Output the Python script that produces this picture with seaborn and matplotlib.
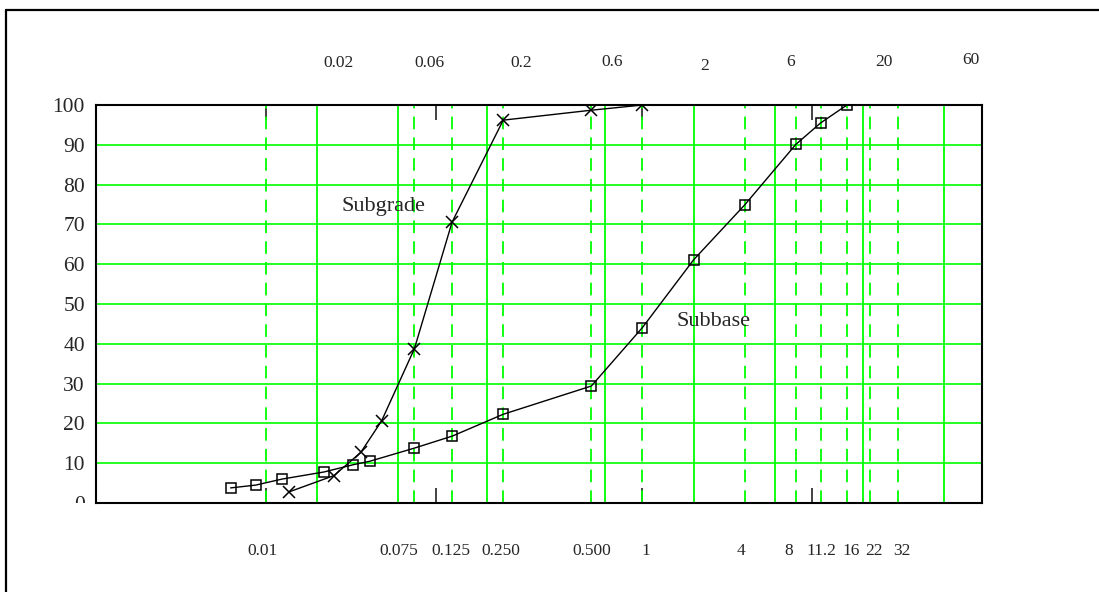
import numpy as np
import pandas as pd
import seaborn as sns
import matplotlib.pyplot as plt
from matplotlib.lines import Line2D
from matplotlib.transforms import Bbox, TransformedBbox
from matplotlib.ticker import FixedLocator, NullLocator, NullFormatter

# grain size distribution, % passing vs sieve size (mm)
subbase_size = [0.0062, 0.0087, 0.0124, 0.022, 0.0325, 0.041, 0.075, 0.125, 0.25, 0.5, 1, 2, 4, 8, 11.2, 16]
subbase_pass = [3.8, 4.5, 6.0, 7.8, 9.6, 10.5, 13.8, 16.8, 22.3, 29.4, 44.1, 61.1, 74.9, 90.1, 95.5, 100]
subgrade_size = [0.0137, 0.0252, 0.0362, 0.048, 0.075, 0.125, 0.25, 0.5, 1]
subgrade_pass = [2.8, 6.9, 12.7, 20.6, 38.8, 70.6, 96.2, 98.7, 100]

# sieve lines (dashed, labelled below) and fraction limits (solid, labelled above)
sieves = [0.01, 0.075, 0.125, 0.25, 0.5, 1, 4, 8, 11.2, 16, 22, 32]
sieve_labels = ['0.01', '0.075', '0.125', '0.250', '0.500', '1', '4', '8', '11.2', '16', '22', '32']
limits = [0.02, 0.06, 0.2, 0.6, 2, 6, 20, 60]
limit_labels = ['0.02', '0.06', '0.2', '0.6', '2', '6', '20', '60']
y_ticks = list(range(0, 101, 10))

# label nudges in pixels
sieve_dx = [-3, -16, -1, -2, 0, 3, -4, -7, 1, 4, 4, 4]
limit_dx = [22, 31, 34, 7, 11, 16, 21, 26]
limit_dy = [42, 42, 42, 43, 39, 43, 43, 45]

# log axis that is stretched between 0.25 and 0.5 mm, like the original sheet
LO, HI, GAP = np.log10(0.25), np.log10(0.5), 0.218


def fwd(x):
    with np.errstate(divide='ignore', invalid='ignore'):
        u = np.log10(np.asarray(x, dtype=float))
    return u + GAP * np.clip((u - LO) / (HI - LO), 0, 1)


def inv(v):
    v = np.asarray(v, dtype=float)
    mid = LO + (v - LO) * (HI - LO) / (HI - LO + GAP)
    u = np.where(v <= LO, v, np.where(v >= HI + GAP, v - GAP, mid))
    return 10 ** u


sns.set_style('white')
plt.rcParams['font.family'] = ['Liberation Serif', 'DejaVu Serif']

fig = plt.figure(figsize=(10.99, 5.92), dpi=100)
ax = fig.add_axes([0.0874, 0.1503, 0.8062, 0.6723])
ax.set_xscale('function', functions=(fwd, inv))
ax.set_xlim(0.001, 100)
ax.set_ylim(0, 100)

green = '#00ff00'
for yv in y_ticks[1:-1]:
    ax.axhline(yv, color=green, lw=1.2, zorder=1)
for xv in limits:
    ax.axvline(xv, color=green, lw=1.3, zorder=1)
for xv in sieves:
    ax.axvline(xv, color=green, lw=1.3, ls=(0, (7, 4.5)), zorder=1)

df_base = pd.DataFrame({'size': subbase_size, 'passing': subbase_pass})
df_grade = pd.DataFrame({'size': subgrade_size, 'passing': subgrade_pass})
sns.lineplot(data=df_base, x='size', y='passing', sort=False, estimator=None, ax=ax,
             color='black', lw=1.0, marker='s', markersize=7, markerfacecolor='none',
             markeredgecolor='black', markeredgewidth=1.1, zorder=3)
sns.lineplot(data=df_grade, x='size', y='passing', sort=False, estimator=None, ax=ax,
             color='black', lw=1.0, marker='x', markersize=9,
             markeredgecolor='black', markeredgewidth=1.1, zorder=3)
ax.set_xlabel('')
ax.set_ylabel('')

# decade ticks, inward at top and bottom
ax.xaxis.set_major_locator(FixedLocator([0.001, 0.01, 0.1, 1, 10, 100]))
ax.xaxis.set_major_formatter(NullFormatter())
ax.xaxis.set_minor_locator(NullLocator())
ax.tick_params(axis='x', which='major', direction='in', length=11, width=1.2,
               color='#222222', top=True, bottom=True)
ax.set_yticks(y_ticks)
ax.tick_params(axis='y', length=0, pad=8, labelsize=15.5)

for sp in ax.spines.values():
    sp.set_color('black')
    sp.set_linewidth(1.5)
    sp.set_zorder(4)

for v, lab, dx in zip(sieves, sieve_labels, sieve_dx):
    ax.annotate(lab, xy=(v, 0), xycoords=('data', 'axes fraction'),
                xytext=(dx, -48), textcoords='offset pixels',
                ha='center', va='center', fontsize=12.5)
for v, lab, dx, dy in zip(limits, limit_labels, limit_dx, limit_dy):
    ax.annotate(lab, xy=(v, 1), xycoords=('data', 'axes fraction'),
                xytext=(dx, dy), textcoords='offset pixels',
                ha='center', va='center', fontsize=12.5)

ax.text(0.0494, 74.4, 'Subgrade', ha='center', va='center', fontsize=16)
ax.text(2.62, 45.5, 'Subbase', ha='center', va='center', fontsize=16)

# the "0" label is cut by the x axis in the original
fig.canvas.draw()
clip = TransformedBbox(Bbox([[0, 0.1503], [1, 1]]), fig.transFigure)
for lab in ax.get_yticklabels():
    if lab.get_text() == '0':
        lab.set_clip_box(clip)
        lab.set_clip_on(True)

# page frame (top and left only)
fig.add_artist(Line2D([0.0055, 1.0], [0.983, 0.983], transform=fig.transFigure, color='black', lw=1.6))
fig.add_artist(Line2D([0.0055, 0.0055], [0.0, 0.983], transform=fig.transFigure, color='black', lw=1.6))

fig.savefig('out.png', dpi=100)
